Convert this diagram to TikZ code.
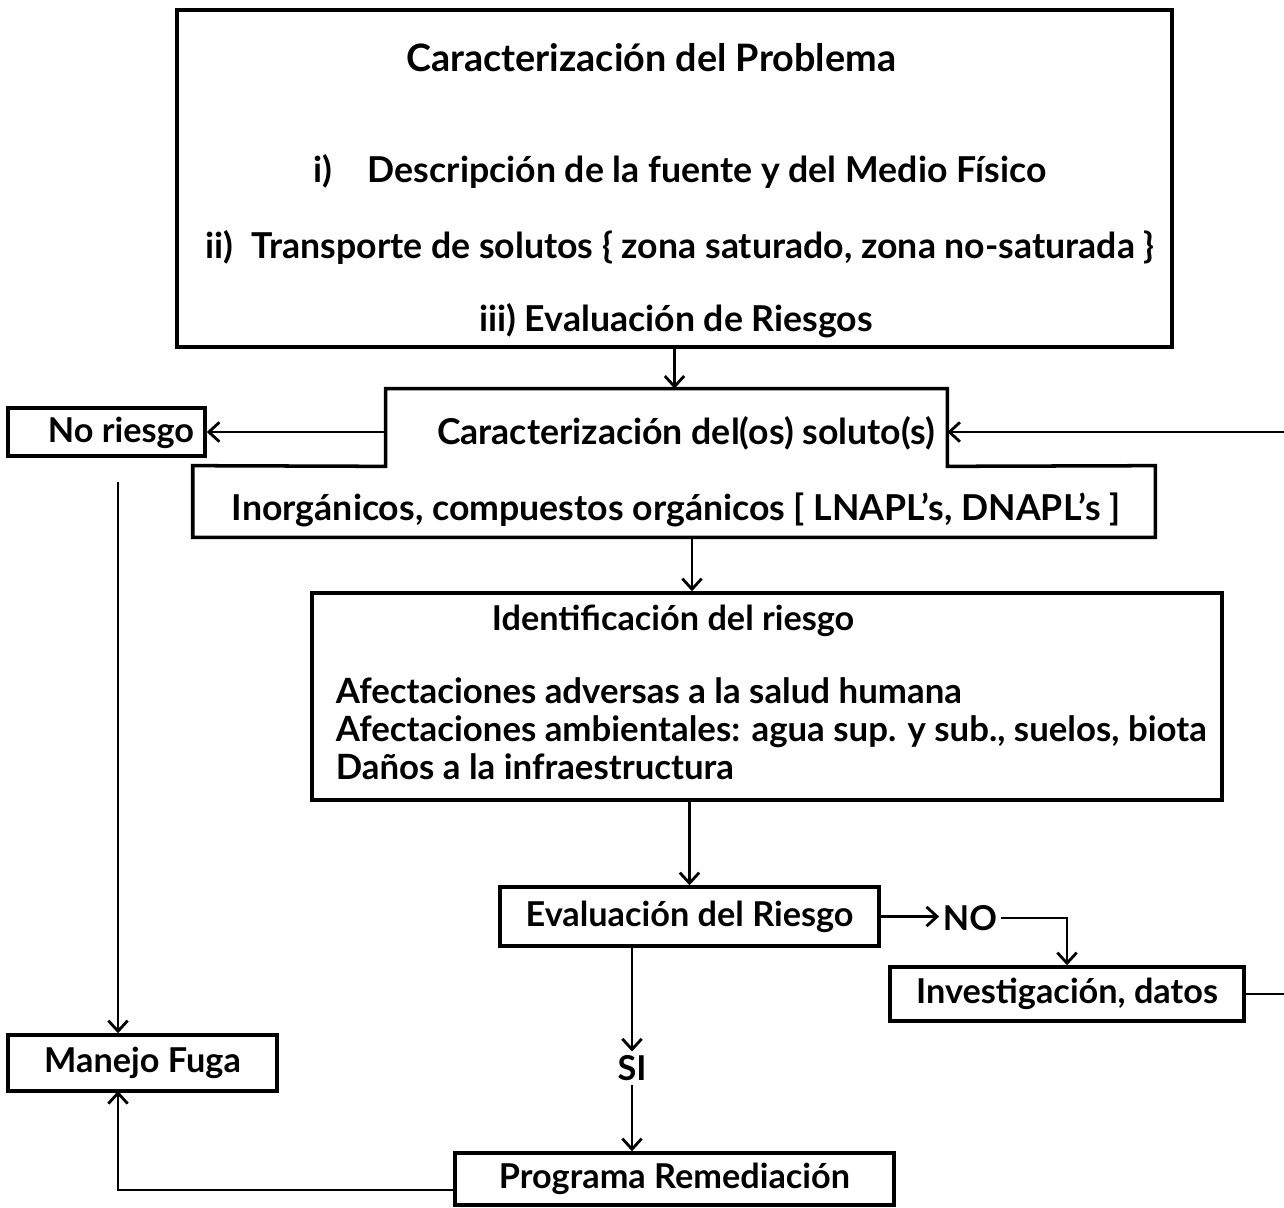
\documentclass[tikz,border=0pt]{standalone}
\usepackage{fontspec}
\setmainfont{Lato}
\usetikzlibrary{arrows.meta}
\begin{document}
\begin{tikzpicture}[x=0.02cm,y=-0.02cm]
  \tikzset{caja/.style={draw,line width=2pt,rectangle,inner sep=0pt},
    txt/.style={font=\bfseries\fontsize{19.5}{21.5}\selectfont,inner sep=2pt},
    big/.style={txt,font=\bfseries\fontsize{20.3}{21.5}\selectfont},
    flecha/.style={line width=1.3pt,-{Straight Barb[length=6pt,width=11pt,line width=1.6pt]}},
    linea/.style={line width=1.3pt}}
  \useasboundingbox (0,0) rectangle (1284,1207);
  % caracterizacion del problema
  \node[caja,minimum width=19.9cm,minimum height=6.74cm] (prob) at (674.5,178.5) {};
  \node[txt,font=\bfseries\fontsize{21.5}{23}\selectfont] (p0) at (651,58) {Caracterización del Problema};
  \node[big] (p1) at (680,171) {i)\quad Descripción de la fuente y del Medio Físico};
  \node[big] (p2) at (680,247) {ii)\enspace Transporte de solutos \{ zona saturado, zona no-saturada \}};
  \node[big] (p3) at (676,321) {iii) Evaluación de Riesgos};
  % solutos
  \node[minimum width=11.22cm,minimum height=1.54cm,inner sep=0pt] (sol) at (666.5,427.5) {};
  \node[big] (solt) at (686,433) {Caracterización del(os) soluto(s)};
  \node[minimum width=19.24cm,minimum height=1.42cm,inner sep=0pt] (inorg) at (674,501.5) {};
  \node[big] (inorgt) at (676,510) {Inorgánicos, compuestos orgánicos [ LNAPL's, DNAPL's ]};
  \draw[line width=2pt] (sol.north west) -- (sol.north east) -- (sol.south east)
    -- (inorg.north east) -- (inorg.south east) -- (inorg.south west)
    -- (inorg.north west) -- (sol.south west) -- cycle;
  \node[caja,minimum width=3.94cm,minimum height=0.96cm] (nr) at (106.5,432) {};
  \node[txt] (nrt) at (121,433) {No riesgo};
  % riesgo
  \node[caja,minimum width=18.2cm,minimum height=4.14cm] (ident) at (767,696.5) {};
  \node[txt] (it) at (673,621) {Identificación del riesgo};
  \node[txt,font=\bfseries\fontsize{19.8}{21.5}\selectfont,align=left,anchor=north west] (il) at (332,674) {Afectaciones adversas a la salud humana\\
    Afectaciones ambientales: agua sup. y sub., suelos, biota\\
    Daños a la infraestructura};
  \node[caja,txt,minimum width=7.58cm,minimum height=1.18cm] (eval) at (689.5,916.5) {Evaluación del Riesgo};
  \node[txt] (no) at (970,918) {NO};
  \node[caja,txt,minimum width=7.08cm,minimum height=1.08cm] (inv) at (1067,994) {Investigación, datos};
  \node[txt] (si) at (632,1068) {SI};
  \node[caja,txt,minimum width=8.78cm,minimum height=1.04cm] (prog) at (674.5,1179) {Programa Remediación};
  \node[caja,txt,minimum width=5.38cm,minimum height=1.12cm] (mf) at (142.5,1063) {Manejo Fuga};
  % conectores
  \coordinate (e1) at (1284,432);
  \coordinate (e2) at (1284,995);
  \coordinate (nrb) at (118,482);
  \coordinate (ea) at (632,946);
  \coordinate (mfb) at (118,1091);
  \draw[flecha] (prob.south) -- (prob.south |- sol.north);
  \draw[flecha] (sol.west |- nr.east) -- (nr.east);
  \draw[flecha] (e1) -- (e1 -| sol.east);
  \draw[flecha] (nrb) -- (nrb |- mf.north);
  \draw[flecha] ([xshift=0.36cm]inorg.south) -- ([xshift=0.36cm]inorg.south |- ident.north);
  \draw[flecha] (eval.north |- ident.south) -- (eval.north);
  \draw[flecha] (eval.east) -- (eval.east -| no.west);
  \draw[flecha] (no.east) -| (inv.north);
  \draw[flecha] (ea) -- (si.north);
  \draw[flecha] (si.south) -- (si.south |- prog.north);
  \draw[flecha] ([yshift=-0.22cm]prog.west) -| (mfb);
  \draw[linea] (inv.east) -- (inv.east -| e2);
\end{tikzpicture}
\end{document}
